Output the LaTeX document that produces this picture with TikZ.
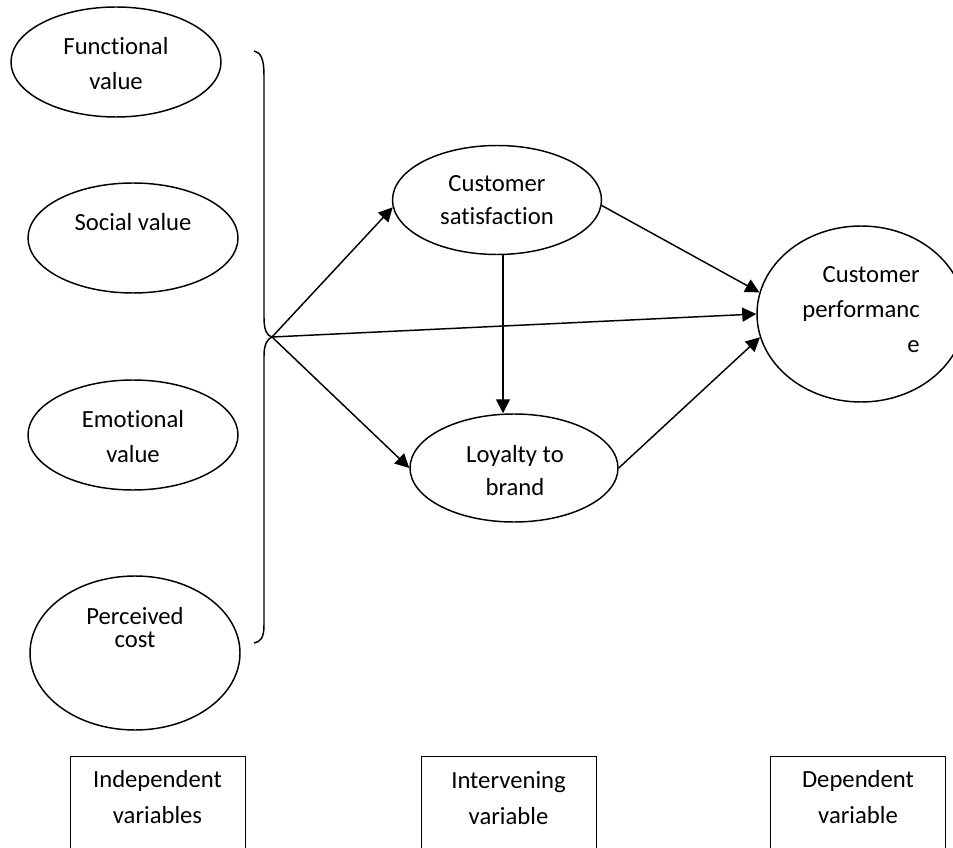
\documentclass[tikz,border=0pt]{standalone}
\usepackage{fontspec}
\setmainfont{Carlito}[Ligatures=NoCommon]
\usetikzlibrary{arrows.meta,shapes.geometric}
\begin{document}
\begin{tikzpicture}[x=0.75pt,y=-0.75pt,
  every node/.style={font=\fontsize{18.5}{26.25}\selectfont},
  oval/.style={draw, ellipse, line width=1.1pt, inner sep=0pt},
  txt/.style={align=center, anchor=base, inner sep=0pt},
  arr/.style={line width=1.1pt, -{Triangle[length=10.5pt,width=10.5pt]}},
  legendbox/.style={draw, line width=1.1pt, minimum width=131.25pt,
    minimum height=90pt, inner sep=0pt, anchor=north west}
]
\useasboundingbox (0,0) rectangle (953,848);
\clip (0,0) rectangle (953,848);

% independent variables (text nodes sit on the baseline of their last line)
\node[oval, minimum width=157.5pt, minimum height=82.5pt] (fv) at (116,62) {};
\node[oval, minimum width=157.5pt, minimum height=82.5pt] (sv) at (133,238) {};
\node[oval, minimum width=157.5pt, minimum height=82.5pt] (ev) at (133,435) {};
\node[oval, minimum width=157.5pt, minimum height=115.5pt] (pc) at (135,653) {};
\node[txt] (fvt) at (116,90) {Functional\\value};
\node[txt] (svt) at (133,231) {Social value};
\node[txt] (evt) at (133,462) {Emotional\\value};
\node[txt, font=\fontsize{18.5}{17}\selectfont] (pct) at (135,647) {Perceived\\cost};

% intervening variables
\node[oval, minimum width=156.75pt, minimum height=81.75pt] (cs) at (497,200) {};
\node[oval, minimum width=156pt, minimum height=81pt] (ly) at (514,468) {};
\node[txt, font=\fontsize{18.5}{24.75}\selectfont] (cst) at (497,225) {Customer\\satisfaction};
\node[txt, font=\fontsize{18.5}{24.75}\selectfont] (lyt) at (515,495) {Loyalty to\\brand};

% dependent variable
\node[oval, minimum width=156pt, minimum height=132pt] (perf) at (861,314) {};
\node[align=right, anchor=base east, inner sep=0pt] (pft) at (920,353) {Customer\\performanc\\e};

% brace grouping the independent variables
\coordinate (tip) at (272,337);
\draw[line width=1.1pt] (254,51) .. controls (261,52) and (264,60) .. (264,75)
  -- (264,318) .. controls (264,330) and (267,336) .. (tip)
  .. controls (267,339) and (264,345) .. (264,356)
  -- (264,625) .. controls (264,637) and (261,642) .. (254,643);

% paths
\coordinate (vx) at (503,0);
\draw[arr] (tip) -- (cs.184);
\draw[arr] (tip) -- (perf.west);
\draw[arr] (tip) -- (ly.west);
\draw[arr] (cs.south -| vx) -- (ly.north -| vx);
\draw[arr] (cs.357) -- (perf.168);
\draw[arr] (ly.east) -- (perf.193);

% legend boxes
\node[legendbox] (ib) at (70,756) {};
\node[legendbox] (vb) at (421,756) {};
\node[legendbox] (db) at (770,756) {};
\node[txt, font=\fontsize{18.5}{27}\selectfont] (ibt) at (157.5,823) {Independent\\variables};
\node[txt, font=\fontsize{18.5}{27}\selectfont] (vbt) at (508.5,824) {Intervening\\variable};
\node[txt, font=\fontsize{18.5}{27}\selectfont] (dbt) at (858,823) {Dependent\\variable};
\end{tikzpicture}
\end{document}
